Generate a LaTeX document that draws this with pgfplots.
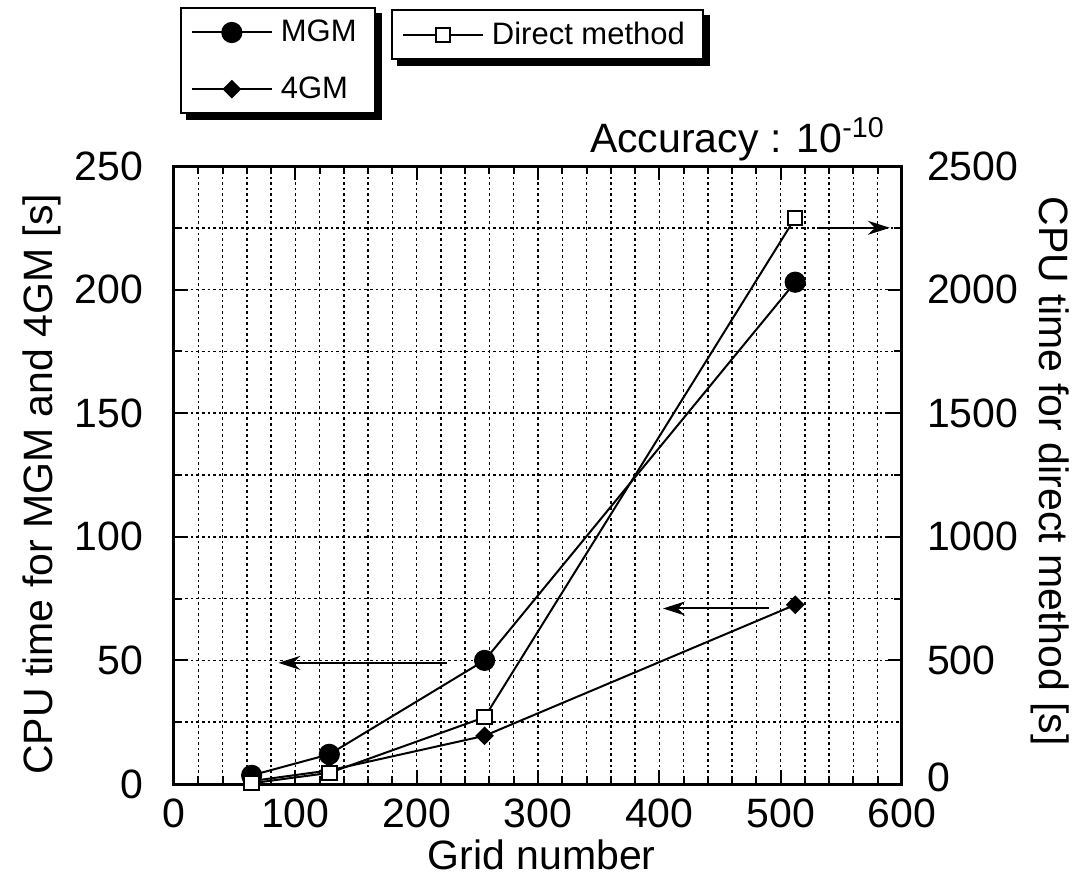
\documentclass[border=0pt]{standalone}
\usepackage{fontspec}
\setmainfont{Liberation Sans}
\usepackage{pgfplots}
\pgfplotsset{compat=1.18}
\usetikzlibrary{arrows.meta}

\begin{document}
\begin{tikzpicture}[font=\fontsize{20}{24}\selectfont]
\useasboundingbox (-87pt,-48pt) rectangle (452pt,392pt);
\pgfplotsset{
  base/.style={
    width=364pt, height=309pt, scale only axis, at={(0,0)}, anchor=south west,
    xmin=0, xmax=600, clip=false,
    tick align=inside, major tick length=7pt, minor tick length=4pt,
    tick style={black, line width=1pt},
    /pgf/number format/assume math mode=true,
    /pgf/number format/1000 sep={},
    ticklabel style={font=\fontsize{20.5}{24}\selectfont},
    label style={font=\fontsize{20.5}{24}\selectfont},
    axis line style={line width=1.5pt},
    legend cell align=left,
    legend image code/.code={\draw[mark repeat=2,mark phase=2,##1] plot coordinates {(0pt,0pt) (20pt,0pt) (40pt,0pt)};},
    legend style={draw=black, line width=1pt, fill=white,
      font=\fontsize{15.5}{18}\selectfont,
      inner xsep=5pt, inner ysep=4pt,
      nodes={inner xsep=4pt}},
  }
}
\begin{axis}[base,
  ymin=0, ymax=250,
  xtick={0,100,...,600}, minor x tick num=4,
  ytick={0,50,...,250}, minor y tick num=1,
  ytick pos=left,
  xticklabel style={yshift=-4pt},
  yticklabel style={xshift=-12pt},
  grid=both,
  major grid style={black, line width=0.75pt, dash pattern=on 1.3pt off 1.5pt},
  minor grid style={black, line width=0.75pt, dash pattern=on 1.3pt off 1.5pt},
  xlabel={Grid number},
  xlabel style={at={(axis description cs:0.505,-0.115)}, anchor=center, inner sep=0pt},
  ylabel={CPU time for MGM and 4GM [s]},
  ylabel style={at={(axis description cs:-0.181,0.485)}, anchor=center},
  legend style={at={(0.008,1.257)}, anchor=north west, name=legA, row sep=12pt},
]
\addplot[black, line width=1pt, mark=*, mark size=4.8pt] coordinates {(64,3.5) (128,12) (256,50) (512,203)};
\addlegendentry{MGM}
\addplot[black, line width=1pt, mark=square*, mark size=2.8pt, mark options={rotate=45}] coordinates {(64,1.2) (128,5.5) (256,19.5) (512,72.5)};
\addlegendentry{4GM}
\draw[line width=1pt, -{Stealth[length=11pt,width=7pt]}] (axis cs:225,49) -- (axis cs:86,49);
\draw[line width=1pt, -{Stealth[length=11pt,width=7pt]}] (axis cs:490,71) -- (axis cs:403,71);
\draw[line width=1pt, -{Stealth[length=11pt,width=7pt]}] (axis cs:530,225) -- (axis cs:590,225);
\node[anchor=west, inner sep=0pt, font=\fontsize{20.5}{24}\selectfont] at (axis description cs:0.571,1.044) {Accuracy : 10\textsuperscript{-10}};
\end{axis}
\begin{axis}[base,
  ymin=0, ymax=2500,
  axis y line*=right, axis x line=none,
  ytick={500,1000,...,2500}, minor y tick num=1,
  extra y ticks={0},
  extra y tick style={yticklabel style={yshift=3.5pt}},
  yticklabel style={xshift=9pt},
  ylabel={CPU time for direct method [s]},
  ylabel style={at={(axis description cs:1.203,0.506)}, anchor=center, rotate=180},
  legend style={at={(0.298,1.254)}, anchor=north west, name=legB},
]
\addplot[black, line width=1pt, mark=square*, mark size=3.6pt, mark options={fill=white, draw=black}] coordinates {(64,3) (128,45) (256,270) (512,2290)};
\addlegendentry{Direct method}
\end{axis}
% drop shadows of the two legend boxes
\foreach \L in {legA,legB}{
  \fill[black] ([yshift=-3pt]\L.north east) rectangle ([xshift=3pt,yshift=-3pt]\L.south east);
  \fill[black] ([xshift=3pt]\L.south west) rectangle ([xshift=3pt,yshift=-3pt]\L.south east);
}
\end{tikzpicture}
\end{document}
